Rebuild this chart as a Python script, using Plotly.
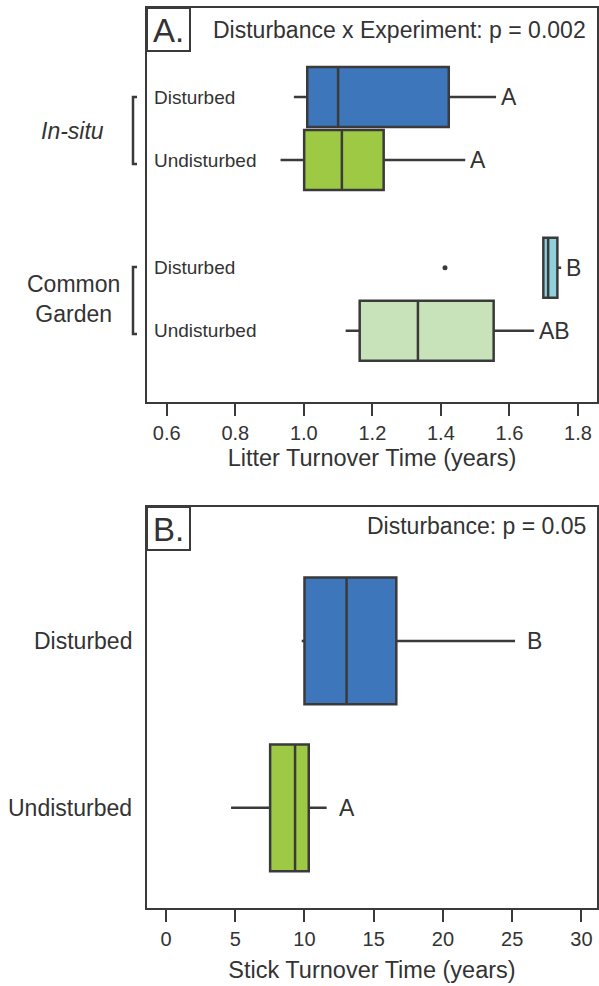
import plotly.graph_objects as go

# ---- Panel A: litter turnover time (years) ----
a_groups = ["Disturbed", "Undisturbed", "Disturbed", "Undisturbed"]
a_pos = [1.0, 2.0, 3.71, 4.71]
a_lower = [0.971, 0.932, 1.696, 1.122]
a_q1 = [1.010, 1.001, 1.699, 1.163]
a_median = [1.100, 1.111, 1.713, 1.333]
a_q3 = [1.423, 1.233, 1.740, 1.554]
a_upper = [1.561, 1.471, 1.751, 1.672]
a_colors = ["#3d76bb", "#9dc944", "#8fd0dc", "#c8e3b9"]
a_letters = ["A", "A", "B", "AB"]
a_outlier_x = [1.412]
a_outlier_pos = [3.71]
a_ticks = [0.6, 0.8, 1.0, 1.2, 1.4, 1.6, 1.8]

# ---- Panel B: stick turnover time (years) ----
b_groups = ["Disturbed", "Undisturbed"]
b_pos = [1.0, 2.0]
b_lower = [9.8, 4.7]
b_q1 = [10.0, 7.52]
b_median = [13.04, 9.32]
b_q3 = [16.63, 10.31]
b_upper = [25.2, 11.6]
b_colors = ["#3d76bb", "#9dc944"]
b_letters = ["B", "A"]
b_ticks = [0, 5, 10, 15, 20, 25, 30]

W, H = 599, 986
FONT = "Liberation Sans, Arial, Helvetica, sans-serif"
INK = "#333333"
EDGE = "#3a3a3a"


def px_x(p):
    return p / W


def px_y(p):
    return 1 - p / H


fig = go.Figure()

for i in range(len(a_pos)):
    fig.add_trace(go.Box(
        y=[a_pos[i]], q1=[a_q1[i]], median=[a_median[i]], q3=[a_q3[i]],
        lowerfence=[a_lower[i]], upperfence=[a_upper[i]],
        orientation="h", width=0.95, whiskerwidth=0,
        fillcolor=a_colors[i], line=dict(color=EDGE, width=2.5),
        boxpoints=False, xaxis="x", yaxis="y", showlegend=False,
        hoverinfo="skip",
    ))
fig.add_trace(go.Scatter(
    x=a_outlier_x, y=a_outlier_pos, mode="markers",
    marker=dict(color=EDGE, size=5), xaxis="x", yaxis="y",
    showlegend=False, hoverinfo="skip",
))

for i in range(len(b_pos)):
    fig.add_trace(go.Box(
        y=[b_pos[i]], q1=[b_q1[i]], median=[b_median[i]], q3=[b_q3[i]],
        lowerfence=[b_lower[i]], upperfence=[b_upper[i]],
        orientation="h", width=0.76, whiskerwidth=0,
        fillcolor=b_colors[i], line=dict(color=EDGE, width=2.5),
        boxpoints=False, xaxis="x2", yaxis="y2", showlegend=False,
        hoverinfo="skip",
    ))

axis_common = dict(
    showline=True, mirror=True, linecolor=EDGE, linewidth=2,
    showgrid=False, zeroline=False, ticks="outside", ticklen=12,
    tickwidth=2, tickcolor=EDGE,
    tickfont=dict(family=FONT, size=20, color=INK),
)

x_dom = [px_x(147), px_x(597)]
fig.update_layout(
    width=W, height=H,
    margin=dict(l=0, r=0, t=0, b=0),
    paper_bgcolor="white", plot_bgcolor="white",
    font=dict(family=FONT, color=INK),
    xaxis=dict(axis_common, domain=x_dom, range=[0.5423, 1.8556],
               tickvals=a_ticks, tickformat=".1f", anchor="y",
               title=dict(text="Litter Turnover Time (years)",
                          font=dict(family=FONT, size=23.5, color=INK),
                          standoff=7)),
    yaxis=dict(axis_common, domain=[px_y(402), px_y(8)],
               range=[5.84, -0.413], showticklabels=False, ticks="",
               anchor="x"),
    xaxis2=dict(axis_common, domain=x_dom, range=[-1.37, 31.12],
                tickvals=b_ticks, anchor="y2",
                title=dict(text="Stick Turnover Time (years)",
                           font=dict(family=FONT, size=23.5, color=INK),
                           standoff=13)),
    yaxis2=dict(axis_common, domain=[px_y(908), px_y(507)],
                range=[2.6, 0.198], showticklabels=False, ticks="",
                anchor="x2"),
)

ann = []
# Group labels inside panel A
for g, p in zip(a_groups, a_pos):
    ann.append(dict(text=g, x=px_x(152), xref="paper", xanchor="left",
                    y=p, yref="y", yanchor="middle", showarrow=False,
                    font=dict(family=FONT, size=19, color=INK)))
# Significance letters
for i in range(len(a_pos)):
    ann.append(dict(text=a_letters[i], x=a_upper[i], xref="x", xanchor="left",
                    xshift=3, y=a_pos[i], yref="y", yanchor="middle",
                    showarrow=False, font=dict(family=FONT, size=23, color=INK)))
for i in range(len(b_pos)):
    ann.append(dict(text=b_letters[i], x=b_upper[i], xref="x2", xanchor="left",
                    xshift=10, y=b_pos[i], yref="y2", yanchor="middle",
                    showarrow=False, font=dict(family=FONT, size=23, color=INK)))
# Panel B category labels on the left
for g, p in zip(b_groups, b_pos):
    ann.append(dict(text=g, x=px_x(134), xref="paper", xanchor="right",
                    y=p, yref="y2", yanchor="middle", showarrow=False,
                    font=dict(family=FONT, size=23, color=INK)))
# Experiment group labels
ann.append(dict(text="<i>In-situ</i>", x=px_x(72), xref="paper", xanchor="center",
                y=px_y(131), yref="paper", yanchor="middle", showarrow=False,
                font=dict(family=FONT, size=23, color=INK)))
ann.append(dict(text="Common<br>Garden", x=px_x(73), xref="paper", xanchor="center",
                y=px_y(299), yref="paper", yanchor="middle", showarrow=False,
                font=dict(family=FONT, size=23, color=INK)))
# Statistics headers
ann.append(dict(text="Disturbance x Experiment: p = 0.002", x=px_x(588),
                xref="paper", xanchor="right", y=px_y(30), yref="paper",
                yanchor="middle", showarrow=False,
                font=dict(family=FONT, size=23, color=INK)))
ann.append(dict(text="Disturbance: p = 0.05", x=px_x(588),
                xref="paper", xanchor="right", y=px_y(526), yref="paper",
                yanchor="middle", showarrow=False,
                font=dict(family=FONT, size=23, color=INK)))
# Panel tags
ann.append(dict(text="A.", x=px_x(168.5), xref="paper", xanchor="center",
                y=px_y(30), yref="paper", yanchor="middle", showarrow=False,
                font=dict(family=FONT, size=33, color=INK)))
ann.append(dict(text="B.", x=px_x(168.5), xref="paper", xanchor="center",
                y=px_y(529), yref="paper", yanchor="middle", showarrow=False,
                font=dict(family=FONT, size=33, color=INK)))
fig.update_layout(annotations=ann)

shapes = []
# Boxes around panel tags
for top in (8, 507):
    shapes.append(dict(type="rect", xref="paper", yref="paper",
                       x0=px_x(147), x1=px_x(190), y0=px_y(top + 43), y1=px_y(top),
                       line=dict(color=EDGE, width=2), fillcolor="rgba(0,0,0,0)"))
# Brackets grouping the experiments
for y_top, y_bot in ((97, 164), (267, 334)):
    xv = px_x(133)
    xs = px_x(137)
    shapes.append(dict(type="path", xref="paper", yref="paper",
                       path=f"M {xs},{px_y(y_top)} L {xv},{px_y(y_top)} L {xv},{px_y(y_bot)} L {xs},{px_y(y_bot)}",
                       line=dict(color=EDGE, width=2.5)))
fig.update_layout(shapes=shapes)

fig.write_html("out.html")
